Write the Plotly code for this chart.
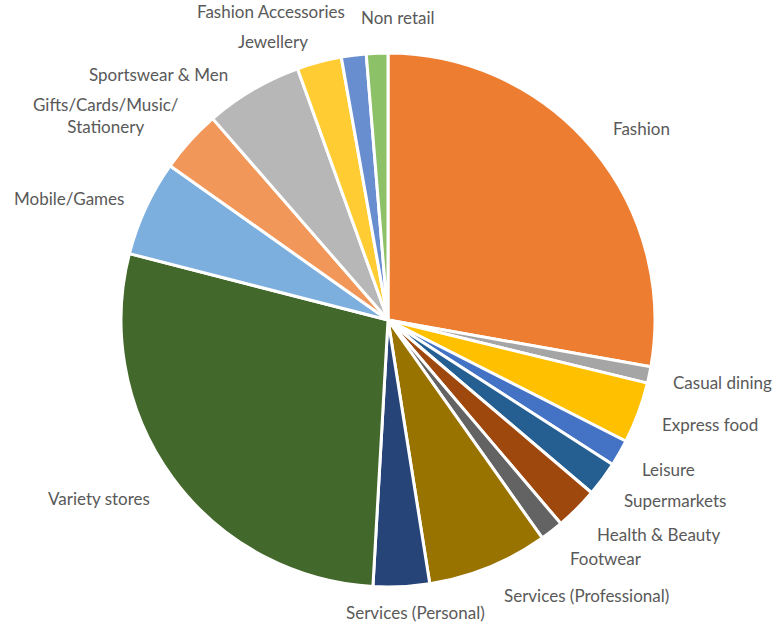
import math
import plotly.graph_objects as go

# Share of units by retail category (%)
categories = [
    "Fashion", "Casual dining", "Express food", "Leisure", "Supermarkets",
    "Health & Beauty", "Footwear", "Services (Professional)", "Services (Personal)",
    "Variety stores", "Mobile/Games", "Gifts/Cards/Music/<br>Stationery",
    "Sportswear & Men", "Jewellery", "Fashion Accessories", "Non retail",
]
shares = [27.8, 1.0, 3.7, 1.6, 2.1, 2.6, 1.4, 7.3, 3.4, 28.1, 5.8, 3.8, 5.9, 2.7, 1.5, 1.3]
colors = [
    "#ED7D31", "#A5A5A5", "#FFC000", "#4472C4", "#255E91", "#9E480E", "#636363",
    "#997300", "#264478", "#43682B", "#7CAFDD", "#F1975A", "#B7B7B7", "#FFCD33",
    "#698ED0", "#8CC168",
]

W, H = 775, 627
CX, CY, R = 388, 320, 267  # pie centre and radius in pixels

fig = go.Figure(go.Pie(
    labels=categories,
    values=shares,
    sort=False,
    direction="clockwise",
    rotation=0,
    textinfo="none",
    hoverinfo="label+percent",
    marker=dict(colors=colors, line=dict(color="white", width=3)),
    domain=dict(x=[(CX - R) / W, (CX + R) / W], y=[(H - CY - R) / H, (H - CY + R) / H]),
    showlegend=False,
))

# Category labels just outside each slice, along its mid-angle
label_nudge = {  # pixel shifts (x right, y up) so labels do not collide
    "Fashion": (2, -6),
    "Casual dining": (1, -3),
    "Express food": (2, 8),
    "Leisure": (2, 7),
    "Supermarkets": (2, 4),
    "Health & Beauty": (3, 2),
    "Footwear": (3, 2),
    "Services (Professional)": (5, 4),
    "Services (Personal)": (13, 8),
    "Variety stores": (-3, 4),
    "Gifts/Cards/Music/<br>Stationery": (7, -12),
    "Sportswear & Men": (-12, -16),
    "Jewellery": (-41, -13),
    "Fashion Accessories": (-80, 10),
    "Non retail": (22, 2),
}
total = sum(shares)
cum = 0.0
annotations = []
for name, v in zip(categories, shares):
    mid = (cum + v / 2) / total * 2 * math.pi
    cum += v
    s, c = math.sin(mid), math.cos(mid)
    rr = R * 1.08
    px, py = CX + rr * s, CY - rr * c
    xa = "left" if s > 0.3 else ("right" if s < -0.3 else "center")
    ya = "bottom" if c > 0.45 else ("top" if c < -0.3 else "middle")
    dx, dy = label_nudge.get(name, (0, 0))
    annotations.append(dict(
        x=px / W, y=1 - py / H, xref="paper", yref="paper",
        text=name, showarrow=False, xanchor=xa, yanchor=ya, align="center",
        xshift=dx, yshift=dy,
        font=dict(family="Lato, Open Sans, sans-serif", size=17, color="#595959"),
    ))

fig.update_layout(
    width=W, height=H,
    margin=dict(l=0, r=0, t=0, b=0),
    paper_bgcolor="white",
    plot_bgcolor="white",
    annotations=annotations,
)

fig.write_html("out.html")
